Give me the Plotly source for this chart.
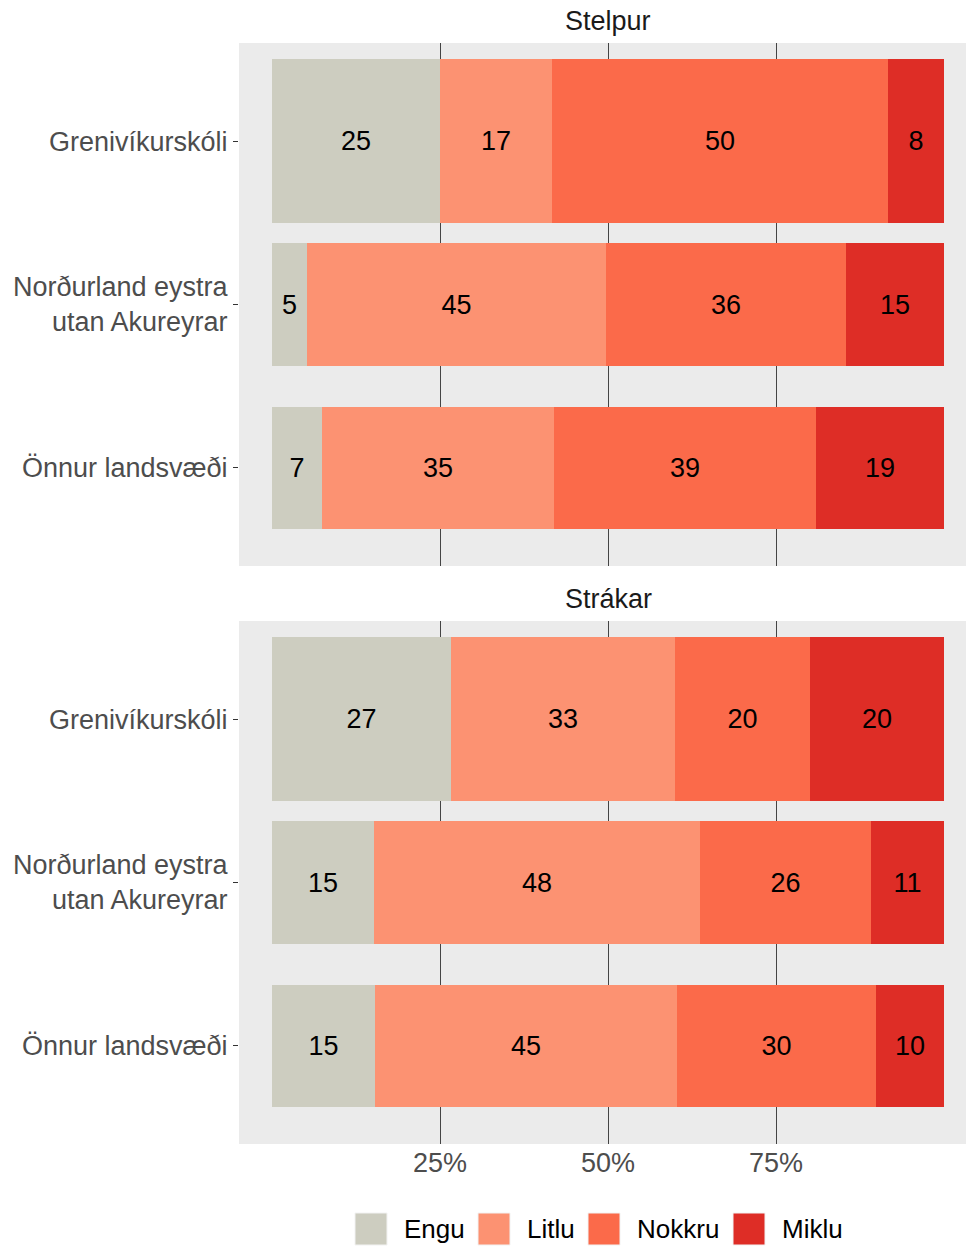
import plotly.graph_objects as go

# ---------------- data ----------------
categories = ["Grenivíkurskóli", "Norðurland eystra<br>utan Akureyrar", "Önnur landsvæði"]
levels = ["Engu", "Litlu", "Nokkru", "Miklu"]
panels = ["Stelpur", "Strákar"]

# Stelpur (girls) – percentages per category (top to bottom)
stelpur_engu = [25.0, 5.2, 7.45]
stelpur_litlu = [16.67, 44.52, 34.55]
stelpur_nokkru = [50.0, 35.75, 38.93]
stelpur_miklu = [8.33, 14.53, 19.07]
stelpur_labels = [[25, 5, 7], [17, 45, 35], [50, 36, 39], [8, 15, 19]]

# Strákar (boys)
strakar_engu = [26.67, 15.15, 15.36]
strakar_litlu = [33.33, 48.58, 44.92]
strakar_nokkru = [20.0, 25.38, 29.62]
strakar_miklu = [20.0, 10.89, 10.10]
strakar_labels = [[27, 15, 15], [33, 48, 45], [20, 26, 30], [20, 11, 10]]

bar_widths = [1.0, 0.75, 0.75]
x_ticks = [25, 50, 75]
x_tick_labels = ["25%", "50%", "75%"]

colors = ["#CDCDC0", "#FC9272", "#FB6A4A", "#DE2D26"]

# ---------------- figure ----------------
FONT = "Liberation Sans, Arial, sans-serif"
W, H = 966, 1248
ML, MR, MT, MB = 239, 0, 43, 104
plot_h = H - MT - MB
gap_px = 55
panel_h = (plot_h - gap_px) / 2

ypos = [3, 2, 1]
fig = go.Figure()

panel_data = [
    ([stelpur_engu, stelpur_litlu, stelpur_nokkru, stelpur_miklu], stelpur_labels),
    ([strakar_engu, strakar_litlu, strakar_nokkru, strakar_miklu], strakar_labels),
]

for p, (vals, labs) in enumerate(panel_data):
    xa = "x" if p == 0 else "x2"
    ya = "y" if p == 0 else "y2"
    for i, lev in enumerate(levels):
        fig.add_trace(go.Bar(
            y=ypos, x=vals[i], orientation="h", width=bar_widths,
            marker=dict(color=colors[i], line=dict(width=0)),
            text=[str(v) for v in labs[i]],
            textposition="inside", insidetextanchor="middle", textangle=0,
            insidetextfont=dict(family=FONT, size=27, color="black"),
            constraintext="none",
            name=lev, showlegend=False, xaxis=xa, yaxis=ya,
            hovertemplate="%{x:.1f}%<extra>" + lev + "</extra>",
        ))

xrange = [-4.91, 103.27]
top_dom = [(panel_h + gap_px) / plot_h, 1.0]
bot_dom = [0.0, panel_h / plot_h]

common_x = dict(range=xrange, tickvals=x_ticks, ticktext=x_tick_labels,
                showgrid=True, gridcolor="#444444", gridwidth=1, zeroline=False,
                showline=False, fixedrange=True, ticks="",
                tickfont=dict(family=FONT, size=27, color="#4D4D4D"))
common_y = dict(range=[0.4, 3.6], tickvals=ypos, ticktext=categories,
                showgrid=False, zeroline=False, showline=False,
                ticks="outside", ticklen=5, tickcolor="#333333", tickwidth=1,
                tickfont=dict(family=FONT, size=27, color="#4D4D4D"))

fig.update_layout(
    width=W, height=H,
    margin=dict(l=ML, r=MR, t=MT, b=MB, pad=0),
    paper_bgcolor="white",
    plot_bgcolor="#EBEBEB",
    barmode="stack", bargap=0,
    showlegend=False,
    xaxis=dict(domain=[0, 1], anchor="y", showticklabels=False, **common_x),
    yaxis=dict(domain=top_dom, anchor="x", **common_y),
    xaxis2=dict(domain=[0, 1], anchor="y2", showticklabels=True, **common_x),
    yaxis2=dict(domain=bot_dom, anchor="x2", **common_y),
)

# facet strip titles
for p, name in enumerate(panels):
    ya_top = 1.0 if p == 0 else bot_dom[1]
    fig.add_annotation(text=name, x=50, xref="x", y=ya_top, yref="paper",
                       yanchor="bottom", yshift=5, showarrow=False,
                       font=dict(family=FONT, size=27, color="#1A1A1A"))

# manual legend (keys + labels)
legend_key_px = [355, 478, 588, 733]
key_size = 32
key_top_px = 1213
for i, lev in enumerate(levels):
    x0 = (legend_key_px[i] - ML) / (W - ML)
    x1 = (legend_key_px[i] + key_size - ML) / (W - ML)
    y1 = (H - MB - key_top_px) / plot_h
    y0 = (H - MB - key_top_px - key_size) / plot_h
    fig.add_shape(type="rect", xref="paper", yref="paper", x0=x0, x1=x1, y0=y0, y1=y1,
                  fillcolor=colors[i], line=dict(color="#F2F2F2", width=1))
    fig.add_annotation(text=lev, xref="paper", yref="paper",
                       x=(legend_key_px[i] + key_size + 15 - ML) / (W - ML),
                       y=(y0 + y1) / 2, xanchor="left", yanchor="middle",
                       showarrow=False, font=dict(family=FONT, size=26, color="black"))

fig.write_html("out.html",
               config={"displayModeBar": False},
               post_script="document.body.style.margin='0';document.body.style.overflow='hidden';")
